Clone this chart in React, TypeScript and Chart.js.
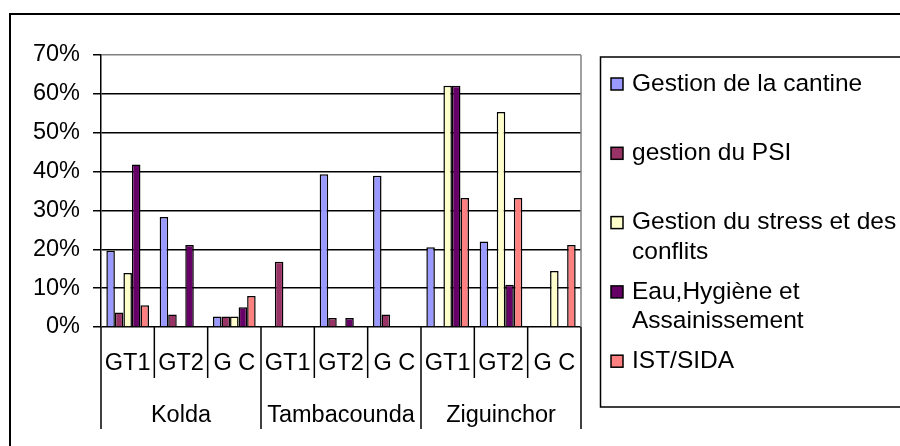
import React, { useEffect, useRef } from 'react';
import { Chart, registerables } from 'chart.js';

Chart.register(...registerables);

const subCategories = ['GT1', 'GT2', 'G C', 'GT1', 'GT2', 'G C', 'GT1', 'GT2', 'G C'];
const regions = ['Kolda', 'Tambacounda', 'Ziguinchor'];
const seriesNames = [
  'Gestion de la cantine',
  'gestion du PSI',
  'Gestion du stress et des conflits',
  'Eau,Hygiène et Assainissement',
  'IST/SIDA',
];
const seriesColors = ['#9999FF', '#993366', '#FFFFCC', '#660066', '#FF8080'];
const cantine = [19.6, 28.3, 2.7, null, 39.3, 38.9, 20.5, 22.0, null];
const psi = [3.7, 3.2, 2.7, 16.8, 2.3, 3.2, null, null, null];
const stress = [13.9, null, 2.7, null, null, null, 62.1, 55.3, 14.4];
const eau = [41.8, 21.1, 5.1, null, 2.3, null, 62.1, 10.9, null];
const ist = [5.6, null, 8.0, null, null, null, 33.2, 33.2, 21.1];
const seriesValues = [cantine, psi, stress, eau, ist];
const yMin = 0;
const yMax = 70;
const yStep = 10;

const FONT = '"Liberation Sans", Arial, sans-serif';

const decorPlugin = {
  id: 'decor',
  beforeDraw(chart: any) {
    const ctx = chart.ctx;
    ctx.save();
    ctx.fillStyle = '#fff';
    ctx.fillRect(0, 0, chart.width, chart.height);
    ctx.strokeStyle = '#000';
    ctx.lineWidth = 2;
    ctx.strokeRect(10, 14, 1000, 1000);
    ctx.restore();
  },
  afterDraw(chart: any) {
    const ctx = chart.ctx;
    const xs = chart.scales.x;
    const ys = chart.scales.y;
    const area = chart.chartArea;
    const base = ys.getPixelForValue(0);
    const w = xs.getPixelForValue(1) - xs.getPixelForValue(0);
    ctx.save();
    // right plot border (gray)
    ctx.strokeStyle = '#808080';
    ctx.lineWidth = 1.5;
    ctx.beginPath();
    ctx.moveTo(area.right, area.top);
    ctx.lineTo(area.right, base);
    ctx.stroke();
    // category boundaries
    ctx.strokeStyle = '#000';
    for (let i = 0; i <= subCategories.length; i++) {
      const x = xs.getPixelForValue(0) - w / 2 + i * w;
      const long = i % 3 === 0;
      ctx.beginPath();
      ctx.moveTo(x, base);
      ctx.lineTo(x, base + (long ? 102 : 51));
      ctx.stroke();
    }
    ctx.fillStyle = '#000';
    ctx.font = `23.5px ${FONT}`;
    ctx.textAlign = 'center';
    ctx.textBaseline = 'middle';
    subCategories.forEach((lab, i) => {
      ctx.fillText(lab, xs.getPixelForValue(i), base + 37);
    });
    regions.forEach((r, g) => {
      const cx = (xs.getPixelForValue(g * 3) + xs.getPixelForValue(g * 3 + 2)) / 2;
      ctx.fillText(r, cx, base + 89);
    });
    // legend
    ctx.lineWidth = 1.5;
    ctx.strokeRect(600.5, 57, 400, 350);
    ctx.font = `24.5px ${FONT}`;
    ctx.textAlign = 'left';
    const maxW = 268;
    seriesNames.forEach((name, i) => {
      const cy = 83 + i * 69.3;
      const words = name.split(' ');
      const lines: string[] = [];
      let cur = '';
      words.forEach((wd) => {
        const t = cur ? cur + ' ' + wd : wd;
        if (ctx.measureText(t).width > maxW && cur) {
          lines.push(cur);
          cur = wd;
        } else cur = t;
      });
      if (cur) lines.push(cur);
      ctx.fillStyle = seriesColors[i];
      ctx.fillRect(611, cy - 5, 12, 12);
      ctx.strokeStyle = '#000';
      ctx.strokeRect(611, cy - 5, 12, 12);
      ctx.fillStyle = '#000';
      lines.forEach((ln, j) => ctx.fillText(ln, 632, cy + 1 + j * 29.5));
    });
    ctx.restore();
  },
};

export default function App() {
  const ref = useRef<HTMLCanvasElement>(null);
  useEffect(() => {
    if (!ref.current) return;
    const chart = new Chart(ref.current, {
      type: 'bar',
      data: {
        labels: subCategories,
        datasets: seriesNames.map((n, i) => ({
          label: n,
          data: seriesValues[i],
          backgroundColor: seriesColors[i],
          borderColor: '#000',
          borderWidth: 1.5,
          categoryPercentage: 0.8,
          barPercentage: 1.0,
        })),
      },
      options: {
        animation: false,
        responsive: false,
        devicePixelRatio: 1,
        layout: { padding: { left: 0, top: 55, right: 319, bottom: 119 } },
        plugins: { legend: { display: false }, tooltip: { enabled: false } },
        scales: {
          x: { display: false },
          y: {
            min: yMin,
            max: yMax,
            afterFit(scale: any) {
              scale.width = 101;
            },
            ticks: {
              stepSize: yStep,
              padding: 13,
              color: '#000',
              font: { family: FONT, size: 23.5 },
              callback: (v: any) => v + '%',
            },
            grid: {
              color: (c: any) => (c.tick && c.tick.value === yMax ? '#808080' : '#000'),
              tickColor: '#000',
              lineWidth: 1.5,
              tickLength: 8,
            },
            border: { color: '#000', width: 1.5 },
          },
        },
      },
      plugins: [decorPlugin],
    });
    return () => chart.destroy();
  }, []);
  return (
    <div style={{ position: 'absolute', left: 0, top: 0, width: 900, height: 446 }}>
      <canvas ref={ref} width={900} height={446} style={{ display: 'block' }} />
    </div>
  );
}
